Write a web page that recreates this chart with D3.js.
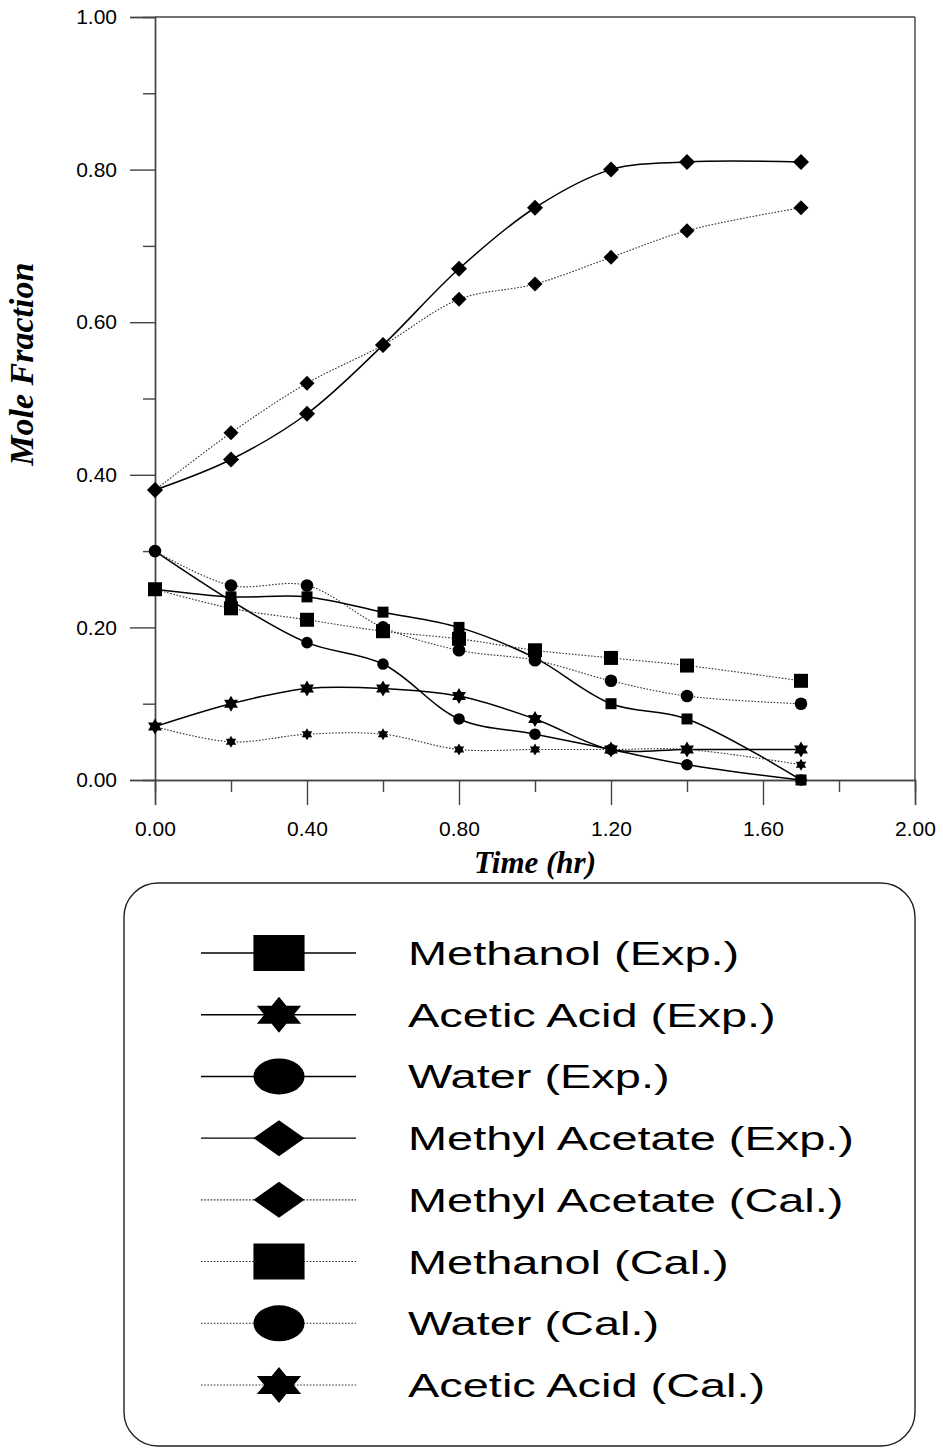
<!DOCTYPE html>
<html><head><meta charset="utf-8">
<script src="https://cdn.jsdelivr.net/npm/d3@7"></script>
<style>body{margin:0;background:#fff}</style>
</head><body><svg id="c" width="943" height="1449"></svg>
<script>
// ---- data ----
const time = [0, 0.2, 0.4, 0.6, 0.8, 1.0, 1.2, 1.4, 1.7];
const methanolExp      = [0.25, 0.24, 0.24, 0.22, 0.20, 0.16, 0.10, 0.08, 0.00];
const aceticAcidExp    = [0.07, 0.10, 0.12, 0.12, 0.11, 0.08, 0.04, 0.04, 0.04];
const waterExp         = [0.30, 0.235, 0.18, 0.152, 0.08, 0.06, 0.04, 0.02, 0.00];
const methylAcetateExp = [0.38, 0.42, 0.48, 0.57, 0.67, 0.75, 0.80, 0.81, 0.81];
const methylAcetateCal = [0.38, 0.455, 0.52, 0.57, 0.63, 0.65, 0.685, 0.72, 0.75];
const methanolCal      = [0.25, 0.225, 0.21, 0.195, 0.185, 0.17, 0.16, 0.15, 0.13];
const waterCal         = [0.30, 0.255, 0.255, 0.20, 0.17, 0.157, 0.13, 0.11, 0.10];
const aceticAcidCal    = [0.07, 0.05, 0.06, 0.06, 0.04, 0.04, 0.04, 0.04, 0.02];

const xMajorTicks = [0, 0.4, 0.8, 1.2, 1.6, 2.0];
const xMinorTicks = [0.2, 0.6, 1.0, 1.4, 1.8];
const yMajorTicks = [0, 0.2, 0.4, 0.6, 0.8, 1.0];
const yMinorTicks = [0.1, 0.3, 0.5, 0.7, 0.9];
const xTitle = "Time (hr)";
const yTitle = "Mole Fraction";

const legendLabels = ["Methanol (Exp.)", "Acetic Acid (Exp.)", "Water (Exp.)", "Methyl Acetate (Exp.)",
  "Methyl Acetate (Cal.)", "Methanol (Cal.)", "Water (Cal.)", "Acetic Acid (Cal.)"];

// ---- series config (draw style) ----
const series = [
  {name: legendLabels[0], values: methanolExp,      shape: "square",  dotted: false, rx: 5.5, ry: 5.5},
  {name: legendLabels[1], values: aceticAcidExp,    shape: "star",    dotted: false, rx: 8, ry: 8},
  {name: legendLabels[2], values: waterExp,         shape: "circle",  dotted: false, rx: 5.8, ry: 5.8},
  {name: legendLabels[3], values: methylAcetateExp, shape: "diamond", dotted: false, rx: 8, ry: 8},
  {name: legendLabels[4], values: methylAcetateCal, shape: "diamond", dotted: true,  rx: 7.5, ry: 7.5},
  {name: legendLabels[5], values: methanolCal,      shape: "square",  dotted: true,  rx: 7, ry: 7},
  {name: legendLabels[6], values: waterCal,         shape: "circle",  dotted: true,  rx: 6.3, ry: 6.3},
  {name: legendLabels[7], values: aceticAcidCal,    shape: "star",    dotted: true,  rx: 6, ry: 6}
];

function shapePath(type, rx, ry) {
  if (type === "square") return `M${-rx},${-ry}H${rx}V${ry}H${-rx}Z`;
  if (type === "diamond") return `M0,${-ry}L${rx},0L0,${ry}L${-rx},0Z`;
  if (type === "circle") return `M${-rx},0A${rx},${ry} 0 1,0 ${rx},0A${rx},${ry} 0 1,0 ${-rx},0Z`;
  // six-pointed star
  const pts = [];
  for (let i = 0; i < 12; i++) {
    const a = (-90 + 30 * i) * Math.PI / 180;
    const r = i % 2 === 0 ? 1 : 1 / Math.sqrt(3);
    pts.push([rx * r * Math.cos(a), ry * r * Math.sin(a)]);
  }
  return "M" + pts.map(p => p[0].toFixed(2) + "," + p[1].toFixed(2)).join("L") + "Z";
}

const svg = d3.select("#c");
const x = d3.scaleLinear().domain([0, 2]).range([155, 915]);
const y = d3.scaleLinear().domain([0, 1]).range([780, 17]);
const axisColor = "#444";
const tickFont = "'Liberation Sans', Arial, sans-serif";

// frame top and right
svg.append("line").attr("x1", x(0)).attr("x2", x(2)).attr("y1", y(1)).attr("y2", y(1))
  .attr("stroke", axisColor).attr("stroke-width", 1.4);
svg.append("line").attr("x1", x(2)).attr("x2", x(2)).attr("y1", y(1)).attr("y2", y(0))
  .attr("stroke", axisColor).attr("stroke-width", 1.4);

function styleAxis(g) {
  g.select(".domain").attr("stroke", axisColor).attr("stroke-width", 1.4);
  g.selectAll(".tick line").attr("stroke", axisColor).attr("stroke-width", 1.4);
  g.selectAll(".tick text").attr("fill", "#000").style("font-family", tickFont).style("font-size", "21px");
}
// x axis
svg.append("g").attr("transform", `translate(0,${y(0)})`)
  .call(d3.axisBottom(x).tickValues(xMinorTicks).tickSize(12).tickFormat(""))
  .call(styleAxis);
svg.append("g").attr("transform", `translate(0,${y(0)})`)
  .call(d3.axisBottom(x).tickValues(xMajorTicks).tickSize(25).tickPadding(16).tickFormat(d3.format(".2f")))
  .call(styleAxis);
// y axis
svg.append("g").attr("transform", `translate(${x(0)},0)`)
  .call(d3.axisLeft(y).tickValues(yMinorTicks).tickSize(12).tickFormat(""))
  .call(styleAxis);
svg.append("g").attr("transform", `translate(${x(0)},0)`)
  .call(d3.axisLeft(y).tickValues(yMajorTicks).tickSize(25).tickPadding(13).tickFormat(d3.format(".2f")))
  .call(styleAxis);

// axis titles
const titleFont = "'Liberation Serif', 'Times New Roman', serif";
svg.append("text").attr("x", x(1)).attr("y", 873).attr("text-anchor", "middle")
  .style("font-family", titleFont).style("font-weight", "bold").style("font-style", "italic")
  .style("font-size", "31px").text(xTitle);
svg.append("text").attr("transform", `translate(33,${y(0.545)}) rotate(-90)`).attr("text-anchor", "middle")
  .style("font-family", titleFont).style("font-weight", "bold").style("font-style", "italic")
  .style("font-size", "34px").text(yTitle);

// lines
const line = d3.line().x((d, i) => x(time[i])).y(d => y(d)).curve(d3.curveCatmullRom.alpha(0.5));
const plot = svg.append("g");
series.forEach(s => {
  plot.append("path").attr("d", line(s.values)).attr("fill", "none")
    .attr("stroke", s.dotted ? "#333" : "#000")
    .attr("stroke-width", s.dotted ? 1.1 : 1.5)
    .attr("stroke-dasharray", s.dotted ? "1.6,1.6" : null);
});
series.forEach(s => {
  plot.selectAll(null).data(s.values).enter().append("path")
    .attr("d", shapePath(s.shape, s.rx, s.ry))
    .attr("transform", (d, i) => `translate(${x(time[i])},${y(d)})`)
    .attr("fill", "#000");
});

// legend
const lg = svg.append("g");
lg.append("rect").attr("x", 124).attr("y", 883).attr("width", 791).attr("height", 563)
  .attr("rx", 34).attr("ry", 34).attr("fill", "none").attr("stroke", "#222").attr("stroke-width", 1.4);
const rowY = d3.scaleLinear().domain([0, 7]).range([953, 1385]);
const markStretch = 1.42;
const textStretch = 1.38;
series.forEach((s, i) => {
  const yy = rowY(i);
  lg.append("line").attr("x1", 201).attr("x2", 356).attr("y1", yy).attr("y2", yy)
    .attr("stroke", s.dotted ? "#333" : "#000").attr("stroke-width", s.dotted ? 1.1 : 1.4)
    .attr("stroke-dasharray", s.dotted ? "1.6,1.6" : null);
  lg.append("path").attr("d", shapePath(s.shape, 18 * markStretch, 18))
    .attr("transform", `translate(279,${yy})`).attr("fill", "#000");
  lg.append("text").attr("transform", `translate(408,${yy + 12}) scale(${textStretch},1)`)
    .style("font-family", tickFont).style("font-size", "34px").text(s.name);
});
</script></body></html>
